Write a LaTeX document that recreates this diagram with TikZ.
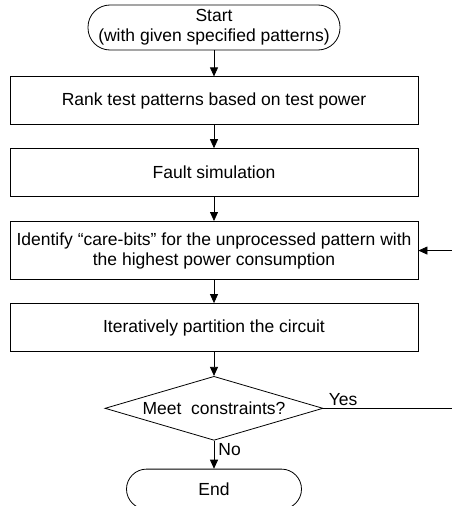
\documentclass[tikz,border=0pt]{standalone}
\usepackage{fontspec}
\setmainfont{Liberation Sans}
\usepackage{tikz}
\usetikzlibrary{positioning,shapes.geometric,arrows.meta}

\begin{document}
\begin{tikzpicture}
[x=1pt, y=1pt,
font=\fontsize{17.5}{20}\selectfont,
line width=0.8pt,
process/.style={draw, rectangle, minimum width=408pt, minimum height=48pt,
inner ysep=11pt, align=center},
terminal/.style={draw, rectangle, align=center},
decision/.style={draw, diamond, shape aspect=3.4, inner sep=0pt,
minimum width=218pt, minimum height=64pt},
flow/.style={-{Triangle[length=9pt,width=8pt]}},
label/.style={inner sep=2pt}]
\useasboundingbox (0,0) rectangle (452,-506);
\node[terminal, minimum width=252pt, minimum height=45pt, rounded corners=22pt]
(start) at (214,-27.5) {Start\\(with given specified patterns)};
\node[process, below=26pt of start] (rank) {Rank test patterns based on test power};
\node[process, below=23pt of rank] (sim) {Fault simulation};
\node[process, below=24pt of sim] (care)
{Identify “care-bits” for the unprocessed pattern with\\the highest power consumption};
\node[process, below=23pt of care] (part) {Iteratively partition the circuit};
\node[decision, below=24pt of part] (meet) {Meet\ \ constraints?};
\node[terminal, minimum width=175pt, minimum height=40pt, rounded corners=20pt,
below=28pt of meet] (stop) {End};
\coordinate (back) at (458,0);
\draw[flow] (start) -- (rank);
\draw[flow] (rank) -- (sim);
\draw[flow] (sim) -- (care);
\draw[flow] (care) -- (part);
\draw[flow] (part) -- (meet);
\draw[flow] (meet) -- (stop);
\draw[flow] (meet.east) -- (meet.east -| back) |- (care.east);
\node[label, anchor=south west, xshift=3pt] (yes) at (meet.east) {Yes};
\node[label, anchor=north west, xshift=2pt] (no) at (meet.south) {No};
\end{tikzpicture}
\end{document}
